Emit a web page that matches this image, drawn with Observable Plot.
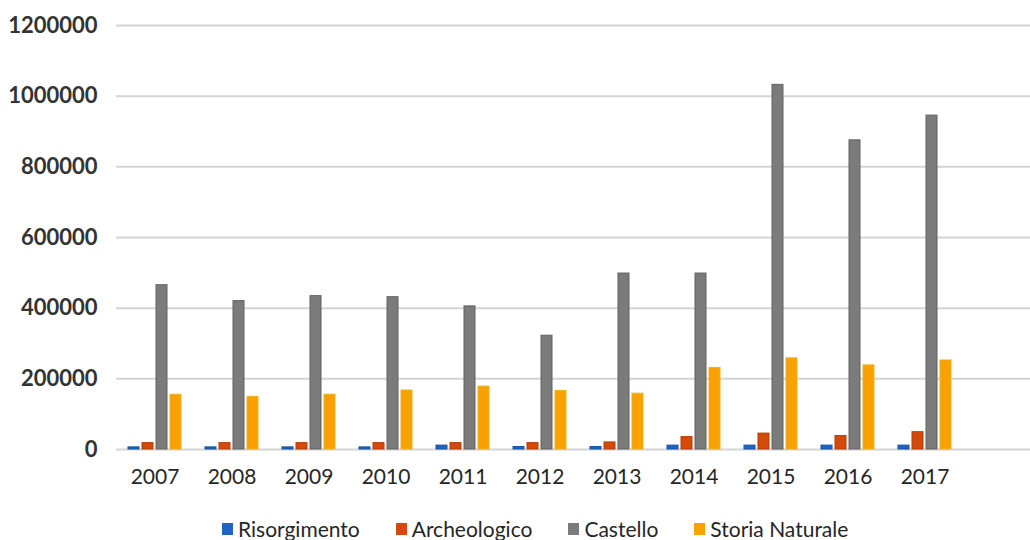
<!DOCTYPE html>
<html>
<head>
<meta charset="utf-8">
<script src="https://cdn.jsdelivr.net/npm/d3@7"></script>
<script src="https://cdn.jsdelivr.net/npm/@observablehq/plot@0.6"></script>
<style>
  html, body { margin: 0; padding: 0; background: #fff; overflow: hidden; }
  #wrap { position: relative; width: 1030px; height: 540px; }
  #bg, #chart { position: absolute; left: 0; top: 0; }
  #legend { position: absolute; left: 222px; top: 516px; display: flex; gap: 36px;
            font-family: Lato, "Open Sans", sans-serif; font-size: 21px; color: #262626; white-space: nowrap; }
  #legend .item { display: flex; align-items: center; gap: 5px; }
  #legend .sw { width: 11px; height: 12px; display: inline-block; }
</style>
</head>
<body>
<div id="wrap">
  <div id="bg"></div>
  <div id="chart"></div>
  <div id="legend"></div>
</div>
<script>
const years = ["2007","2008","2009","2010","2011","2012","2013","2014","2015","2016","2017"];
const seriesNames = ["Risorgimento","Archeologico","Castello","Storia Naturale"];
const seriesColors = ["#1d65c1","#d44a0a","#7b7b7b","#f9a100"];
const seriesStrokes = ["#17539e","#b53c06","#626262","#f0b020"];
const risorgimento = [6000,6000,6000,6000,11000,7000,7000,11000,11000,11000,11000];
const archeologico = [18000,18000,18000,18000,18000,18000,20000,35000,45000,38000,49000];
const castello = [465000,420000,434000,431000,405000,322000,498000,498000,1032000,875000,945000];
const storiaNaturale = [155000,149000,155000,167000,178000,166000,158000,231000,258000,238000,252000];
const yTicks = [0,200000,400000,600000,800000,1000000,1200000];

const valuesBySeries = [risorgimento, archeologico, castello, storiaNaturale];
const data = [];
years.forEach((y, i) => {
  seriesNames.forEach((s, j) => data.push({year: y, series: s, value: valuesBySeries[j][i]}));
});

const common = {
  width: 1030,
  height: 500,
  marginLeft: 116,
  marginRight: 0,
  marginTop: 25,
  marginBottom: 51,
  y: {domain: [0, 1200000], axis: null}
};

// background: gridlines and y axis
const bg = Plot.plot({
  ...common,
  style: {background: "#fff", fontFamily: "Lato, 'Open Sans', sans-serif"},
  marks: [
    Plot.ruleY(yTicks, {stroke: "#d4d4d4", strokeWidth: 2}),
    Plot.axisY(yTicks, {anchor: "left", tickSize: 0, tickPadding: 19,
      tickFormat: d => String(d), fontSize: 22, fontWeight: "bold", fill: "#333"})
  ]
});
document.getElementById("bg").appendChild(bg);

// foreground: grouped bars
const chart = Plot.plot({
  ...common,
  style: {background: "transparent", fontFamily: "Lato, 'Open Sans', sans-serif"},
  fx: {domain: years, range: [116, 963], paddingInner: 0.31, paddingOuter: 0.155, axis: null, label: null},
  x: {domain: seriesNames, paddingInner: 0.22, paddingOuter: 0, axis: null},
  color: {domain: seriesNames, range: seriesColors},
  marks: [
    Plot.barY(data, {fx: "year", x: "series", y: "value", fill: "series",
      stroke: d => seriesStrokes[seriesNames.indexOf(d.series)], strokeWidth: 1}),
    Plot.axisFx({anchor: "bottom", tickSize: 0, tickPadding: 20, label: null,
      fontSize: 21, fill: "#262626"})
  ]
});
document.getElementById("chart").appendChild(chart);

const legend = document.getElementById("legend");
seriesNames.forEach((s, i) => {
  const item = document.createElement("span");
  item.className = "item";
  const sw = document.createElement("span");
  sw.className = "sw";
  sw.style.background = seriesColors[i];
  item.appendChild(sw);
  const t = document.createElement("span");
  t.textContent = s;
  item.appendChild(t);
  legend.appendChild(item);
});
</script>
</body>
</html>
